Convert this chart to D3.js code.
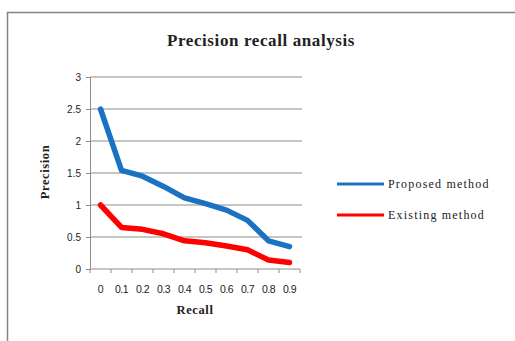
<!DOCTYPE html>
<html>
<head>
<meta charset="UTF-8">
<script src="https://d3js.org/d3.v7.min.js"></script>
<style>
  body { margin: 0; background: #fff; }
</style>
</head>
<body>
<div id="chart"></div>
<script>
const recall = ["0", "0.1", "0.2", "0.3", "0.4", "0.5", "0.6", "0.7", "0.8", "0.9"];
const proposed = [2.5, 1.54, 1.45, 1.29, 1.11, 1.02, 0.92, 0.76, 0.44, 0.35];
const existing = [1.0, 0.65, 0.62, 0.55, 0.44, 0.41, 0.36, 0.3, 0.14, 0.1];
const yTicks = [0, 0.5, 1, 1.5, 2, 2.5, 3];
const seriesNames = ["Proposed method", "Existing method"];

const width = 515, height = 341;
const svg = d3.select("#chart").append("svg").attr("width", width).attr("height", height);

// chart frame
svg.append("rect").attr("x", 7.5).attr("y", 12.5).attr("width", 520).attr("height", 340)
  .attr("fill", "none").attr("stroke", "#858585").attr("stroke-width", 1.5);

const plot = {left: 90, right: 300, top: 77, bottom: 269};

const x = d3.scaleBand().domain(recall).range([plot.left, plot.right]);
const y = d3.scaleLinear().domain([0, 3]).range([plot.bottom, plot.top]);

// gridlines
svg.append("g").selectAll("line").data(yTicks.slice(1)).join("line")
  .attr("x1", plot.left).attr("x2", plot.right + 2)
  .attr("y1", d => y(d)).attr("y2", d => y(d))
  .attr("stroke", "#8c8c8c").attr("stroke-width", 1);

// y axis
const gY = svg.append("g").attr("transform", `translate(${plot.left},0)`)
  .call(d3.axisLeft(y).tickValues(yTicks).tickSize(4).tickFormat(d3.format("")));
gY.select(".domain").attr("stroke", "#8c8c8c");
gY.selectAll(".tick line").attr("stroke", "#8c8c8c");
gY.selectAll("text").attr("font-family", "Liberation Sans, sans-serif").attr("font-size", 10)
  .attr("fill", "#222").attr("x", -9);

// x axis: ticks on category boundaries
const gX = svg.append("g").attr("transform", `translate(0,${plot.bottom})`);
gX.append("line").attr("x1", plot.left).attr("x2", plot.right)
  .attr("stroke", "#8c8c8c");
const bounds = recall.map(d => x(d)).concat([plot.right]);
gX.selectAll(".bt").data(bounds).join("line").attr("class", "bt")
  .attr("x1", d => d).attr("x2", d => d).attr("y1", 0).attr("y2", 4)
  .attr("stroke", "#8c8c8c");
gX.selectAll(".lab").data(recall).join("text").attr("class", "lab")
  .attr("x", d => x(d) + x.bandwidth() / 2).attr("y", 24)
  .attr("text-anchor", "middle").attr("font-family", "Liberation Sans, sans-serif")
  .attr("font-size", 10.5).attr("letter-spacing", -0.5).attr("fill", "#222").text(d => d);

// lines
const line = d3.line().x((d, i) => x(recall[i]) + x.bandwidth() / 2).y(d => y(d));
const colors = ["#1a73c2", "#ff0000"];
[proposed, existing].forEach((s, k) => {
  svg.append("path").datum(s).attr("d", line).attr("fill", "none")
    .attr("stroke", colors[k]).attr("stroke-width", 5.5)
    .attr("stroke-linejoin", "round").attr("stroke-linecap", "round");
});

// title
svg.append("text").attr("x", 261).attr("y", 46).attr("text-anchor", "middle")
  .attr("font-family", "Liberation Serif, serif").attr("font-weight", "bold")
  .attr("font-size", 17).attr("letter-spacing", 0.6).attr("fill", "#222")
  .text("Precision recall analysis");

// axis titles
svg.append("text").attr("transform", "translate(49,172) rotate(-90)")
  .attr("text-anchor", "middle").attr("font-family", "Liberation Serif, serif")
  .attr("font-weight", "bold").attr("font-size", 12.5).attr("letter-spacing", 0.6)
  .attr("fill", "#222").text("Precision");
svg.append("text").attr("x", 195).attr("y", 314).attr("text-anchor", "middle")
  .attr("font-family", "Liberation Serif, serif").attr("font-weight", "bold")
  .attr("font-size", 12.5).attr("letter-spacing", 0.6).attr("fill", "#222").text("Recall");

// legend
const leg = svg.append("g").selectAll("g").data(seriesNames).join("g")
  .attr("transform", (d, i) => `translate(337,${184 + i * 31})`);
leg.append("line").attr("x1", 0).attr("x2", 47).attr("stroke", (d, i) => colors[i])
  .attr("stroke-width", 3);
leg.append("text").attr("x", 51).attr("y", 4).attr("font-family", "Liberation Serif, serif")
  .attr("font-size", 12).attr("letter-spacing", 1.2).attr("fill", "#222").text(d => d);
</script>
</body>
</html>
